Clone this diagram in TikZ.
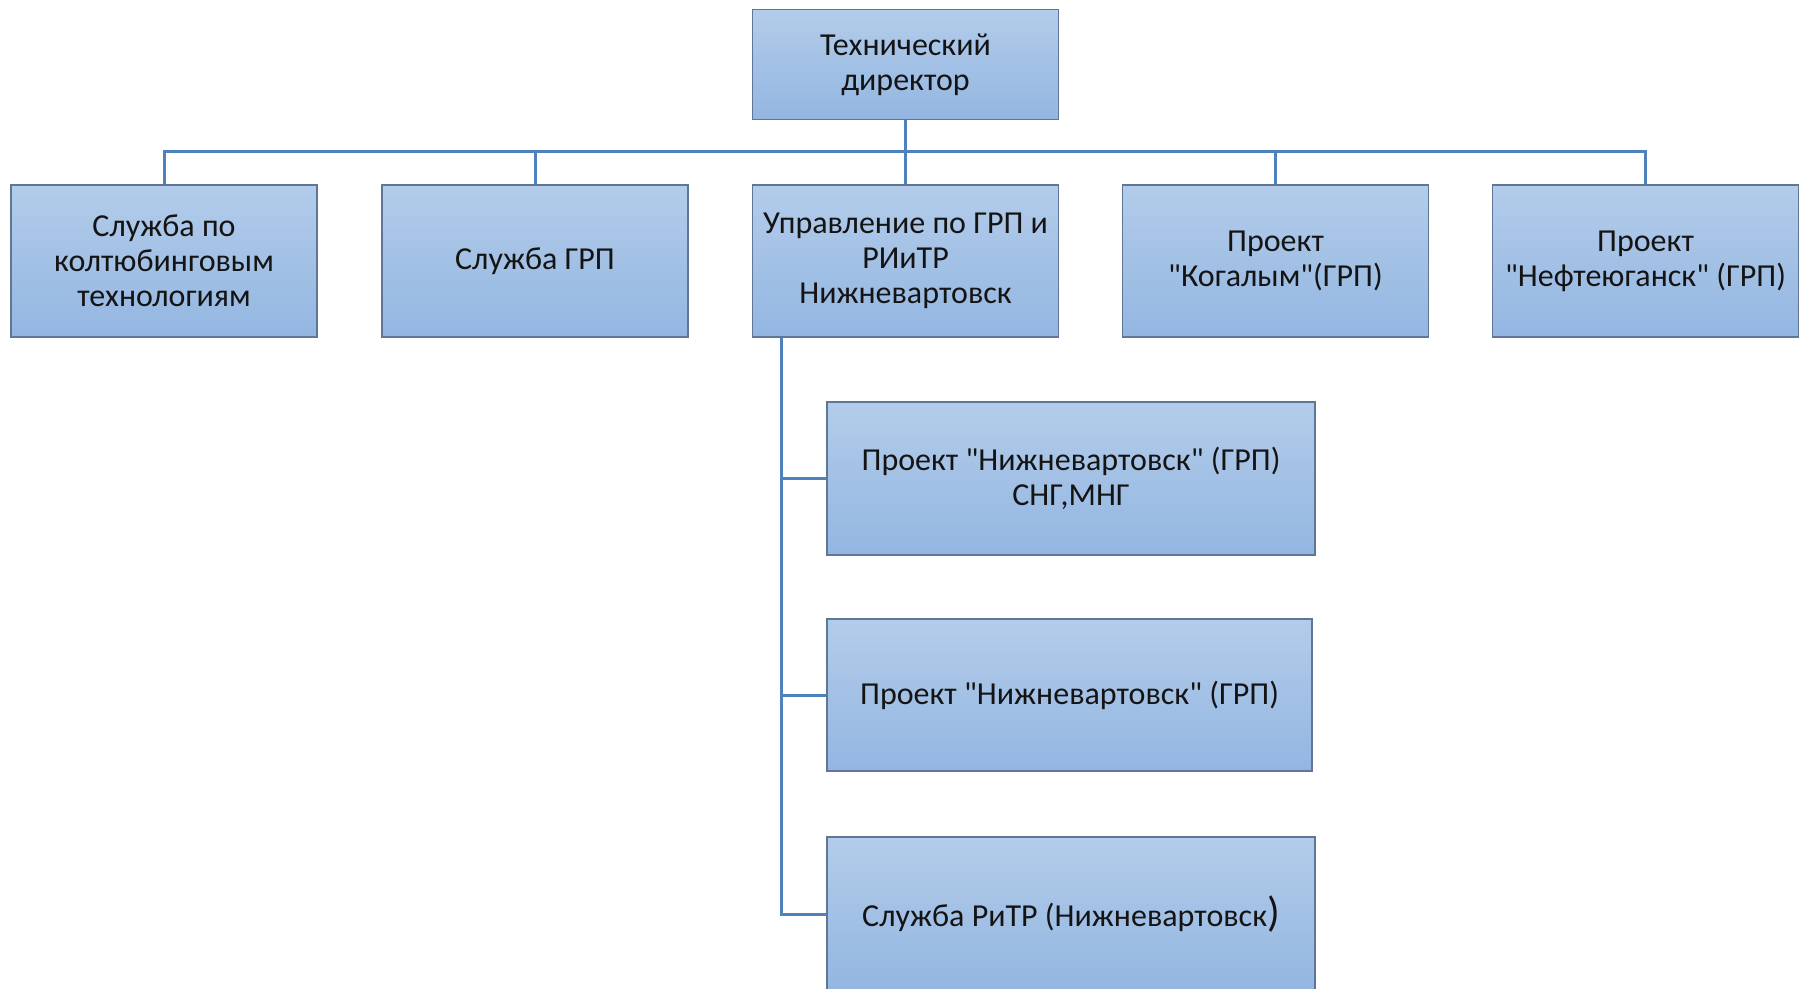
\documentclass[tikz,border=0pt]{standalone}
\usepackage{fontspec}
\newfontfamily\cf{Carlito}
\definecolor{boxtop}{HTML}{B3CCEA}
\definecolor{boxbot}{HTML}{93B6E1}
\definecolor{boxline}{HTML}{5F7696}
\definecolor{conn}{HTML}{4F81BD}
\definecolor{txt}{HTML}{141414}
\begin{document}
\begin{tikzpicture}[x=0.5pt,y=-0.5pt,
  orgbox/.style={draw=boxline, line width=0.6pt, top color=boxtop, bottom color=boxbot,
    align=center, text=txt, inner sep=2pt,
    font=\cf\fontsize{16}{17.6}\selectfont},
  rowbox/.style={orgbox, minimum width=153pt, minimum height=76pt},
  link/.style={draw=conn, line width=1.5pt}]
\useasboundingbox (0,0) rectangle (1802,989);
\node[orgbox, minimum width=153pt, minimum height=55pt] (top) at (905.5,64.5) {Технический\\директор};
\node[rowbox] (c1) at (164,261) {Служба по\\колтюбинговым\\технологиям};
\node[rowbox] (c2) at (535,261) {Служба ГРП};
\node[rowbox] (c3) at (905.5,261) {Управление по ГРП и\\РИиТР\\Нижневартовск};
\node[rowbox] (c4) at (1275.5,261) {Проект\\"Когалым"(ГРП)};
\node[rowbox] (c5) at (1645.5,261) {Проект\\"Нефтеюганск" (ГРП)};
\node[orgbox, minimum width=244pt, minimum height=76.5pt] (s1) at (1071,478.5) {Проект "Нижневартовск" (ГРП)\\СНГ,МНГ};
\node[orgbox, minimum width=242.5pt, minimum height=76pt] (s2) at (1069.5,695) {Проект "Нижневартовск" (ГРП)};
\node[orgbox, minimum width=244pt, minimum height=77pt] (s3) at (1071,914) {Служба РиТР (Нижневартовск{\fontsize{21}{21}\selectfont)}};
\coordinate (bus) at (0,152);
\coordinate (spine) at ([xshift=15pt]c3.south west);
\draw[link] (top.south) -- (top.south |- bus);
\draw[link] (c1.north) -- (c1.north |- bus) -- (c5.north |- bus) -- (c5.north);
\foreach \c in {c2,c3,c4} \draw[link] (\c.north) -- (\c.north |- bus);
\draw[link] (spine) |- (s1.west);
\draw[link] (spine) |- (s2.west);
\draw[link] (spine) |- (s3.west);
\end{tikzpicture}
\end{document}
